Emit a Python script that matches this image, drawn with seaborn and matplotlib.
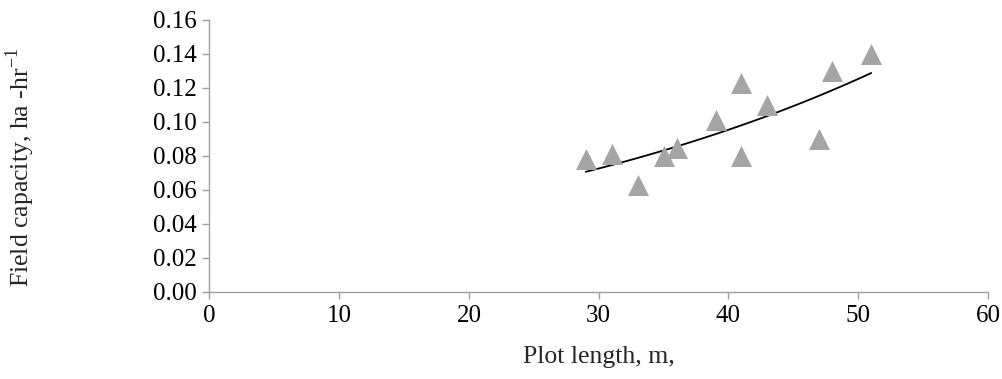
import numpy as np
import pandas as pd
import seaborn as sns
import matplotlib.pyplot as plt

plot_length = [29, 31, 33, 35, 36, 39, 41, 41, 43, 47, 48, 51]
field_capacity = [0.078, 0.081, 0.063, 0.080, 0.085, 0.101, 0.123, 0.080, 0.110, 0.090, 0.130, 0.140]
x_ticks = [0, 10, 20, 30, 40, 50, 60]
y_ticks = [0.00, 0.02, 0.04, 0.06, 0.08, 0.10, 0.12, 0.14, 0.16]

data = pd.DataFrame({"length": plot_length, "capacity": field_capacity})

# exponential trendline (log-linear least squares, like a spreadsheet trendline)
b, log_a = np.polyfit(data["length"], np.log(data["capacity"]), 1)
trend_x = np.linspace(min(plot_length), max(plot_length), 100)
trend = pd.DataFrame({"length": trend_x, "capacity": np.exp(log_a) * np.exp(b * trend_x)})

sns.set_style("white")
plt.rcParams["font.family"] = ["Liberation Serif", "DejaVu Serif"]
plt.rcParams["mathtext.fontset"] = "custom"
plt.rcParams["mathtext.rm"] = "Liberation Serif"

FS = 18
fig = plt.figure(figsize=(10.03, 3.79), dpi=100)
ax = fig.add_axes([209.5 / 1003, 1 - 292 / 379, (988 - 209.5) / 1003, (292 - 20) / 379])

sns.lineplot(data=trend, x="length", y="capacity", ax=ax, color="black", linewidth=1.3)
sns.scatterplot(data=data, x="length", y="capacity", ax=ax, marker="^", s=230,
                color="#a5a5a5", edgecolor="#a5a5a5", linewidth=0, zorder=3)

ax.set_xlim(0, 60)
ax.set_ylim(0, 0.16)
ax.set_xticks(x_ticks)
ax.set_yticks(y_ticks)
ax.set_yticklabels([f"{v:.2f}" for v in y_ticks])
ax.tick_params(axis="both", labelsize=FS, colors="black", length=5, width=1,
               direction="out", pad=4)
ax.tick_params(axis="both", color="#a0a0a0")
ax.xaxis.set_ticks_position("bottom")
ax.yaxis.set_ticks_position("left")

for side in ["top", "right"]:
    ax.spines[side].set_visible(False)
for side in ["left", "bottom"]:
    ax.spines[side].set_color("#a0a0a0")
    ax.spines[side].set_linewidth(1)

ax.set_xlabel("Plot length, m,", fontsize=18.5)
ax.set_ylabel("Field capacity, ha -hr$^{\\mathregular{-1}}$", fontsize=18.5)
ax.xaxis.set_label_coords(0.5, -0.2)
ax.yaxis.set_label_coords(-0.222, 0.458)

fig.savefig("out.png", dpi=100)
